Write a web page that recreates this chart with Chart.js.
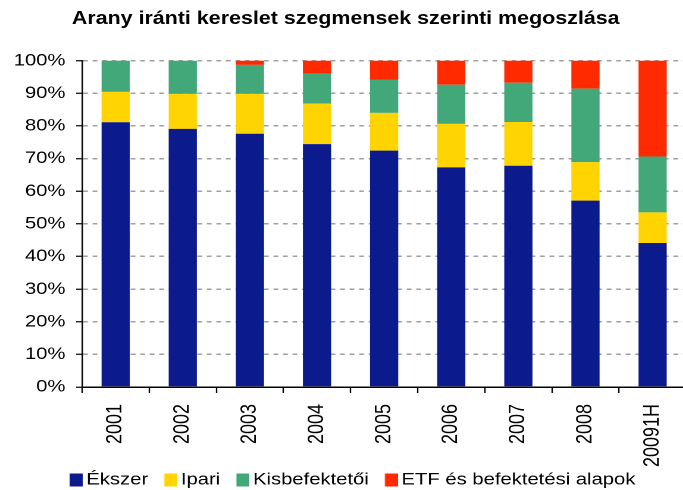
<!DOCTYPE html>
<html>
<head>
<meta charset="utf-8">
<script src="https://cdn.jsdelivr.net/npm/chart.js@4.4.1/dist/chart.umd.min.js"></script>
<style>
  html, body { margin: 0; padding: 0; background: #fff; overflow: hidden; }
  #wrap { width: 683px; height: 490px; overflow: hidden; }
  /* az eredeti ábra vízszintesen nyújtott, ezért a vásznat is nyújtjuk */
  #c { display: block; transform: scaleX(1.19); transform-origin: 0 0; }
</style>
</head>
<body>
<div id="wrap"><canvas id="c" width="581" height="490"></canvas></div>
<script>
// Adatok (százalék)
const evek = ['2001', '2002', '2003', '2004', '2005', '2006', '2007', '2008', '20091H'];
const ekszer = [81.1, 79.1, 77.6, 74.4, 72.4, 67.3, 67.8, 57.1, 44.1];
const ipari = [9.3, 10.7, 12.2, 12.4, 11.6, 13.3, 13.4, 11.8, 9.4];
const kisbefekteto = [9.6, 10.2, 8.9, 9.2, 10.2, 12.0, 12.0, 22.5, 17.1];
const etf = [0, 0, 1.3, 4.0, 5.8, 7.4, 6.8, 8.6, 29.4];
const sorozatNevek = ['Ékszer', 'Ipari', 'Kisbefektetői', 'ETF és befektetési alapok'];
const yTicks = [0, 10, 20, 30, 40, 50, 60, 70, 80, 90, 100];

const szinek = ['#0b1a8c', '#ffd400', '#42a87a', '#ff2a00'];
const betu = 'Arial, "Liberation Sans", sans-serif';

// jelmagyarázat négyzete: átlátszó bal rész + színes négyzet jobbra,
// így a szöveg közel kerül a négyzethez
function minta(szin) {
    const c = document.createElement('canvas');
    c.width = 28; c.height = 13;
    const g = c.getContext('2d');
    g.fillStyle = szin;
    g.fillRect(17, 0, 11, 13);
    return c;
}

Chart.defaults.font.family = betu;
Chart.defaults.color = '#000';

const adatsorok = [ekszer, ipari, kisbefekteto, etf].map((d, i) => ({
    label: sorozatNevek[i],
    data: d,
    backgroundColor: szinek[i],
    borderWidth: 0,
    barPercentage: 0.42,
    categoryPercentage: 1
}));

const ctx = document.getElementById('c').getContext('2d');
new Chart(ctx, {
    type: 'bar',
    data: { labels: evek, datasets: adatsorok },
    options: {
        responsive: false,
        animation: false,
        devicePixelRatio: 2,
        layout: { padding: { left: 0, right: 0, top: 0, bottom: -8.5 } },
        plugins: {
            title: {
                display: true,
                text: 'Arany iránti kereslet szegmensek szerinti megoszlása',
                font: { size: 18, weight: 'bold' },
                color: '#000',
                padding: { top: 8, bottom: 31 }
            },
            legend: {
                position: 'bottom',
                labels: {
                    usePointStyle: true,
                    pointStyleWidth: 17,
                    boxHeight: 13,
                    padding: 2,
                    font: { size: 17, lineHeight: 1 },
                    color: '#000',
                    generateLabels: chart => Chart.defaults.plugins.legend.labels.generateLabels(chart)
                        .map((it, i) => Object.assign(it, { pointStyle: minta(szinek[i]) }))
                }
            },
            tooltip: { enabled: false }
        },
        scales: {
            x: {
                stacked: true,
                afterFit: s => { s.height = 82.5; },
                grid: {
                    offset: true,
                    drawOnChartArea: false,
                    drawTicks: true,
                    tickLength: 6,
                    tickColor: '#000',
                    tickWidth: 1.2
                },
                border: { color: '#000', width: 1.5 },
                ticks: {
                    font: { size: 18 },
                    color: '#000',
                    minRotation: 90,
                    maxRotation: 90,
                    autoSkip: false,
                    padding: 11
                }
            },
            y: {
                stacked: true,
                min: 0,
                max: 100,
                afterFit: s => { s.width = 69; },
                afterBuildTicks: s => { s.ticks = yTicks.map(v => ({ value: v })); },
                grid: {
                    color: c => (c.tick && c.tick.value === 0) ? 'rgba(0,0,0,0)' : '#a0a0a0',
                    lineWidth: 1.5,
                    drawTicks: true,
                    tickLength: 5,
                    tickColor: '#000',
                    tickWidth: 1.2
                },
                border: { color: '#000', width: 1.3, dash: [4, 4] },
                ticks: {
                    font: { size: 17 },
                    color: '#000',
                    padding: 9,
                    callback: v => v + '%'
                }
            }
        }
    }
});
</script>
</body>
</html>
